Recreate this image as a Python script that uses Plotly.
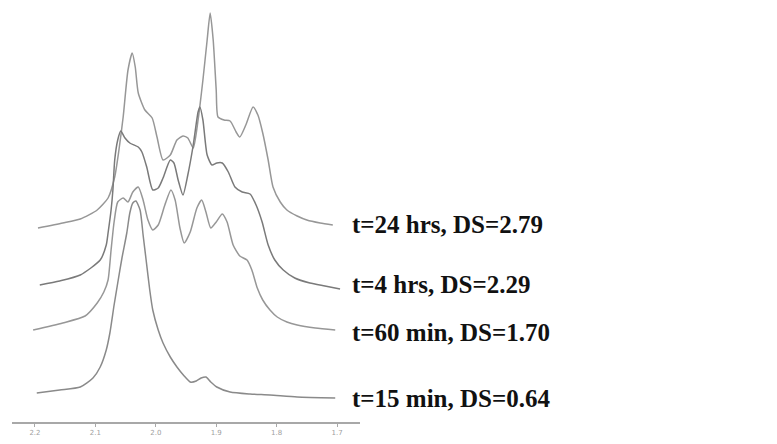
import plotly.graph_objects as go

# ---- data (chemical shift in ppm, relative intensity) ----
ppm_24h = [2.195, 2.154, 2.125, 2.097, 2.079, 2.068, 2.061, 2.054, 2.046, 2.039, 2.034, 2.029,
           2.018, 2.006, 1.998, 1.988, 1.976, 1.965, 1.955, 1.947, 1.938, 1.930, 1.922, 1.915,
           1.910, 1.905, 1.900, 1.897, 1.887, 1.877, 1.867, 1.861, 1.851, 1.839, 1.831, 1.823,
           1.814, 1.806, 1.794, 1.783, 1.766, 1.750, 1.728, 1.707]
int_24h = [0, 5, 9, 18, 30, 51, 78, 111, 158, 175, 161, 135,
           118, 110, 91, 68, 73, 88, 92, 90, 80, 108, 148, 188,
           215, 188, 138, 111, 108, 107, 96, 91, 103, 121, 113, 95,
           68, 41, 26, 18, 12, 8, 5, 3]

ppm_4h = [2.192, 2.159, 2.125, 2.092, 2.082, 2.079, 2.074, 2.071, 2.068, 2.063, 2.058, 2.051,
          2.043, 2.029, 2.023, 2.015, 2.005, 1.996, 1.988, 1.976, 1.970, 1.963, 1.955, 1.947,
          1.938, 1.930, 1.927, 1.922, 1.915, 1.907, 1.899, 1.890, 1.880, 1.869, 1.857, 1.844,
          1.834, 1.824, 1.814, 1.803, 1.789, 1.770, 1.745, 1.720, 1.695]
int_4h = [2, 6, 12, 27, 42, 54, 77, 97, 127, 147, 156, 149,
          144, 140, 135, 120, 97, 99, 109, 127, 124, 107, 92, 112,
          142, 175, 180, 167, 132, 122, 124, 124, 115, 100, 95, 93,
          82, 65, 42, 27, 17, 9, 4, 1, -2]

ppm_60m = [2.203, 2.154, 2.117, 2.097, 2.086, 2.079, 2.074, 2.069, 2.063, 2.054, 2.046, 2.038,
           2.029, 2.021, 2.013, 2.005, 1.996, 1.985, 1.975, 1.968, 1.960, 1.953, 1.943, 1.932,
           1.924, 1.917, 1.909, 1.900, 1.890, 1.882, 1.872, 1.861, 1.849, 1.841, 1.832, 1.823,
           1.811, 1.799, 1.783, 1.766, 1.736, 1.703]
int_60m = [0, 7, 14, 27, 38, 50, 80, 108, 128, 132, 128, 138,
           143, 130, 110, 100, 105, 125, 140, 130, 102, 87, 98, 122,
           130, 118, 102, 108, 116, 108, 85, 74, 70, 60, 42, 30,
           20, 13, 8, 5, 2, 0]

ppm_15m = [2.197, 2.159, 2.125, 2.104, 2.092, 2.082, 2.076, 2.069, 2.063, 2.056, 2.048, 2.043,
           2.038, 2.033, 2.026, 2.021, 2.016, 2.010, 2.005, 1.996, 1.988, 1.976, 1.965, 1.953,
           1.943, 1.933, 1.925, 1.917, 1.909, 1.899, 1.877, 1.844, 1.811, 1.766, 1.703]
int_15m = [2, 5, 8, 17, 28, 45, 62, 90, 112, 137, 162, 182,
           192, 194, 185, 160, 135, 105, 85, 65, 52, 38, 28, 19,
           13, 14, 17, 18, 13, 8, 3, 1, 0, -2, -3]

labels = ["t=24 hrs, DS=2.79", "t=4 hrs, DS=2.29", "t=60 min, DS=1.70", "t=15 min, DS=0.64"]
tick_vals = [2.2, 2.1, 2.0, 1.9, 1.8, 1.7]
tick_text = ["2.2", "2.1", "2.0", "1.9", "1.8", "1.7"]

# ---- stacking / styling ----
series = [(ppm_24h, int_24h), (ppm_4h, int_4h), (ppm_60m, int_60m), (ppm_15m, int_15m)]
offsets = [194, 135, 92, 27]
label_y = [198, 138, 90, 24]
colors = ["#979797", "#7a7a7a", "#979797", "#8a8a8a"]

fig = go.Figure()
for (xs, ys), off, col in zip(series, offsets, colors):
    fig.add_trace(go.Scatter(
        x=xs, y=[off + v for v in ys], mode="lines",
        line=dict(color=col, width=1.5, shape="spline", smoothing=0.6),
        showlegend=False, hoverinfo="skip"))

for text, ly in zip(labels, label_y):
    fig.add_annotation(x=1.679, y=ly, xref="x", yref="y", text="<b>" + text + "</b>",
                       showarrow=False, xanchor="left", yanchor="middle",
                       font=dict(family="Liberation Serif", size=25, color="#111111"))

fig.add_annotation(x=2.21, y=-19, xref="x", yref="y", text="ppm", showarrow=False,
                   xanchor="left", yanchor="middle",
                   font=dict(family="DejaVu Sans", size=7, color="#b0b0b0"))

fig.update_layout(
    width=777, height=444,
    margin=dict(l=12, r=417, t=0, b=22),
    paper_bgcolor="white", plot_bgcolor="white",
    xaxis=dict(range=[2.238, 1.662], showgrid=False, zeroline=False,
               showline=True, linecolor="#a8a8a8", linewidth=1.5,
               ticks="outside", ticklen=3, tickcolor="#a8a8a8",
               tickvals=tick_vals, ticktext=tick_text,
               tickfont=dict(family="DejaVu Sans", size=7, color="#a0a0a0")),
    yaxis=dict(range=[0, 422], visible=False, showgrid=False, zeroline=False),
)

fig.write_html("out.html", config={"displayModeBar": False},
               post_script="document.body.style.margin='0';document.body.style.overflow='hidden';")
